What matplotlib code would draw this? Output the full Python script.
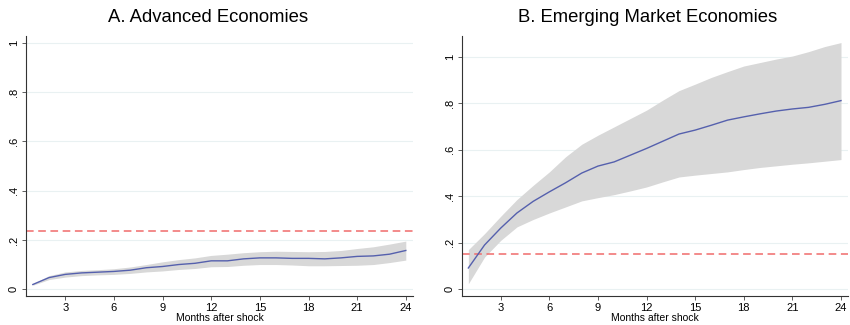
import matplotlib
matplotlib.use("Agg")
import matplotlib.pyplot as plt
import numpy as np

plt.rcParams['font.family'] = ['Liberation Sans', 'DejaVu Sans']

months = list(range(1, 25))

# A. Advanced Economies
ae_mean = [0.019, 0.047, 0.060, 0.066, 0.069, 0.072, 0.077, 0.087, 0.092, 0.100,
           0.105, 0.115, 0.115, 0.123, 0.127, 0.127, 0.125, 0.125, 0.123, 0.127,
           0.133, 0.135, 0.142, 0.157]
ae_upper = [0.022, 0.055, 0.070, 0.076, 0.079, 0.083, 0.090, 0.100, 0.111, 0.120,
            0.127, 0.137, 0.142, 0.148, 0.152, 0.154, 0.153, 0.152, 0.153, 0.157,
            0.165, 0.172, 0.183, 0.195]
ae_lower = [0.016, 0.039, 0.049, 0.055, 0.058, 0.060, 0.064, 0.070, 0.074, 0.080,
            0.084, 0.091, 0.092, 0.097, 0.100, 0.100, 0.098, 0.095, 0.095, 0.096,
            0.097, 0.100, 0.108, 0.118]
ae_threshold = 0.2355

# B. Emerging Market Economies
em_mean = [0.091, 0.190, 0.263, 0.328, 0.378, 0.419, 0.458, 0.500, 0.530, 0.548,
           0.577, 0.606, 0.637, 0.668, 0.685, 0.706, 0.728, 0.742, 0.755, 0.767,
           0.776, 0.783, 0.796, 0.812]
em_upper = [0.170, 0.239, 0.314, 0.386, 0.447, 0.505, 0.570, 0.624, 0.663, 0.699,
            0.735, 0.771, 0.814, 0.855, 0.883, 0.912, 0.937, 0.961, 0.976, 0.991,
            1.004, 1.023, 1.045, 1.062]
em_lower = [0.023, 0.138, 0.210, 0.268, 0.300, 0.328, 0.354, 0.380, 0.394, 0.407,
            0.423, 0.440, 0.462, 0.483, 0.491, 0.498, 0.505, 0.515, 0.524, 0.531,
            0.538, 0.544, 0.551, 0.558]
em_threshold = 0.151

x_ticks = [3, 6, 9, 12, 15, 18, 21, 24]
y_ticks = [0, 0.2, 0.4, 0.6, 0.8, 1.0]
y_labels = ['0', '.2', '.4', '.6', '.8', '1']

fig = plt.figure(figsize=(8.5, 3.25), dpi=100)
ax1 = fig.add_axes([0.0306, 0.089, 0.4554, 0.80])
ax2 = fig.add_axes([0.543, 0.089, 0.455, 0.80])

panels = [
    (ax1, "A. Advanced Economies", ae_mean, ae_upper, ae_lower, ae_threshold, (-0.028, 1.027), 0.47),
    (ax2, "B. Emerging Market Economies", em_mean, em_upper, em_lower, em_threshold, (-0.03, 1.09), 0.48),
]

for ax, title, mean, upper, lower, thr, ylim, tx in panels:
    for yv in y_ticks:
        ax.axhline(yv, color='#e9f1f2', lw=0.8, zorder=0)
    ax.fill_between(months, lower, upper, color='#d8d8d8', lw=0, zorder=1)
    ax.plot(months, mean, color='#5560ad', lw=1.0, zorder=3)
    ax.axhline(thr, color='#f06b6b', lw=1.1, ls=(0, (5, 3)), zorder=2)
    ax.set_xlim(0.58, 24.45)
    ax.set_ylim(*ylim)
    ax.set_xticks(x_ticks)
    ax.set_yticks(y_ticks)
    ax.set_yticklabels(y_labels, rotation=90, va='center')
    ax.tick_params(axis='both', labelsize=8, length=3, width=0.6, color='#444444', pad=2)
    for s in ['top', 'right']:
        ax.spines[s].set_visible(False)
    for s in ['left', 'bottom']:
        ax.spines[s].set_color('#333333')
        ax.spines[s].set_linewidth(0.8)
    ax.set_xlabel("Months after shock", fontsize=7.5, labelpad=0)
    ax.set_title(title, fontsize=13.3, x=tx, pad=10)

fig.savefig("out.png", dpi=100, facecolor='white')
